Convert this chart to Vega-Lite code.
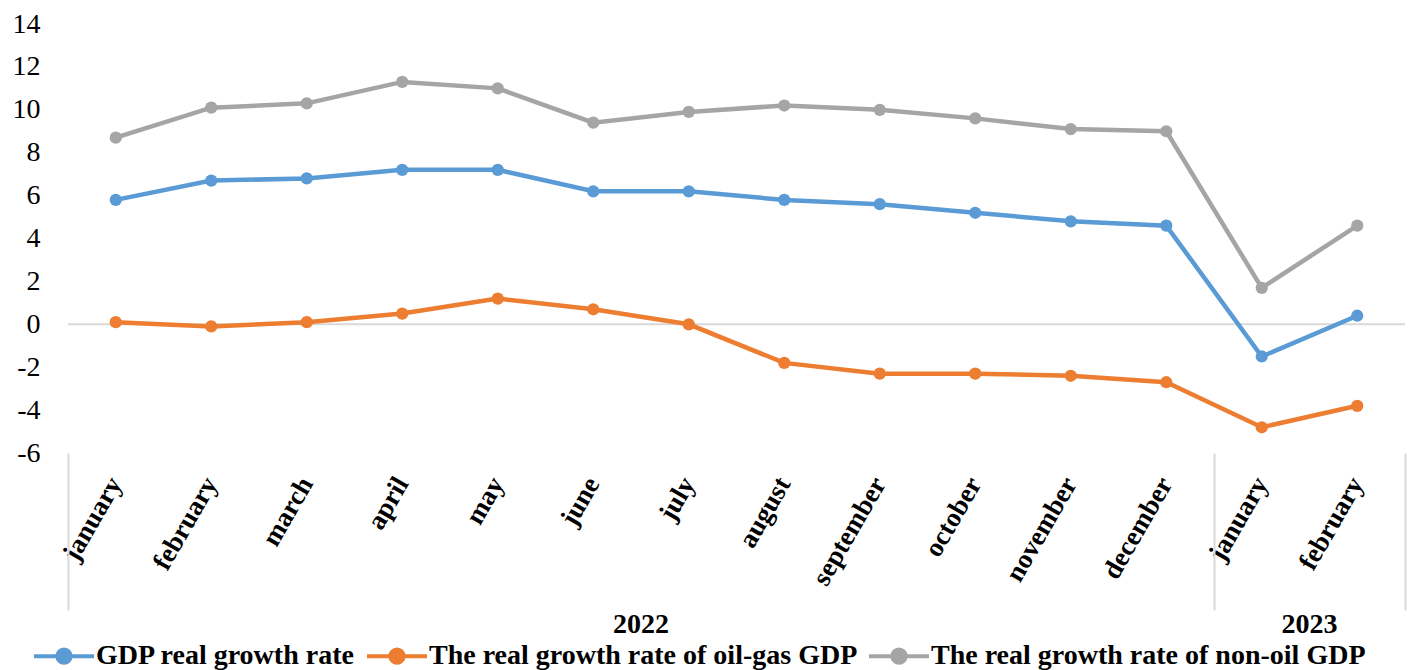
{
  "$schema": "https://vega.github.io/schema/vega-lite/v6.json",
  "width": 1337,
  "height": 429,
  "autosize": {"type": "none"},
  "padding": {"left": 68, "top": 24, "right": 3, "bottom": 217},
  "background": "white",
  "config": {
    "view": {"stroke": null},
    "font": "Liberation Serif",
    "axis": {"labelFont": "Liberation Serif"},
    "axisY": {
      "domain": false,
      "ticks": false,
      "grid": false,
      "labelFont": "Liberation Serif",
      "labelFontWeight": "normal",
      "labelFontSize": 28,
      "labelColor": "black",
      "labelPadding": 28,
      "labelExpr": "datum.value < 0 ? '-' + abs(datum.value) : '' + datum.value"
    },
    "legend": {
      "orient": "none",
      "legendX": -36,
      "legendY": 600,
      "direction": "horizontal",
      "symbolType": "M-1,0L1,0M-0.22,0A0.22,0.22,0,1,0,0.22,0A0.22,0.22,0,1,0,-0.22,0Z",
      "symbolSize": 3600,
      "symbolStrokeWidth": 4,
      "labelFont": "Liberation Serif",
      "labelFontWeight": "bold",
      "labelFontSize": 28,
      "labelColor": "black",
      "labelOffset": 0,
      "columnPadding": 3,
      "labelLimit": 0
    }
  },
  "datasets": {
    "zero": [{"value": 0}],
    "growth": [
      {"key": "2022 january", "series": "GDP real growth rate", "value": 5.8},
      {"key": "2022 february", "series": "GDP real growth rate", "value": 6.7},
      {"key": "2022 march", "series": "GDP real growth rate", "value": 6.8},
      {"key": "2022 april", "series": "GDP real growth rate", "value": 7.2},
      {"key": "2022 may", "series": "GDP real growth rate", "value": 7.2},
      {"key": "2022 june", "series": "GDP real growth rate", "value": 6.2},
      {"key": "2022 july", "series": "GDP real growth rate", "value": 6.2},
      {"key": "2022 august", "series": "GDP real growth rate", "value": 5.8},
      {"key": "2022 september", "series": "GDP real growth rate", "value": 5.6},
      {"key": "2022 october", "series": "GDP real growth rate", "value": 5.2},
      {"key": "2022 november", "series": "GDP real growth rate", "value": 4.8},
      {"key": "2022 december", "series": "GDP real growth rate", "value": 4.6},
      {"key": "2023 january", "series": "GDP real growth rate", "value": -1.5},
      {"key": "2023 february", "series": "GDP real growth rate", "value": 0.4},
      {"key": "2022 january", "series": "The real growth rate of oil-gas GDP", "value": 0.1},
      {"key": "2022 february", "series": "The real growth rate of oil-gas GDP", "value": -0.1},
      {"key": "2022 march", "series": "The real growth rate of oil-gas GDP", "value": 0.1},
      {"key": "2022 april", "series": "The real growth rate of oil-gas GDP", "value": 0.5},
      {"key": "2022 may", "series": "The real growth rate of oil-gas GDP", "value": 1.2},
      {"key": "2022 june", "series": "The real growth rate of oil-gas GDP", "value": 0.7},
      {"key": "2022 july", "series": "The real growth rate of oil-gas GDP", "value": 0.0},
      {"key": "2022 august", "series": "The real growth rate of oil-gas GDP", "value": -1.8},
      {"key": "2022 september", "series": "The real growth rate of oil-gas GDP", "value": -2.3},
      {"key": "2022 october", "series": "The real growth rate of oil-gas GDP", "value": -2.3},
      {"key": "2022 november", "series": "The real growth rate of oil-gas GDP", "value": -2.4},
      {"key": "2022 december", "series": "The real growth rate of oil-gas GDP", "value": -2.7},
      {"key": "2023 january", "series": "The real growth rate of oil-gas GDP", "value": -4.8},
      {"key": "2023 february", "series": "The real growth rate of oil-gas GDP", "value": -3.8},
      {"key": "2022 january", "series": "The real growth rate of non-oil GDP", "value": 8.7},
      {"key": "2022 february", "series": "The real growth rate of non-oil GDP", "value": 10.1},
      {"key": "2022 march", "series": "The real growth rate of non-oil GDP", "value": 10.3},
      {"key": "2022 april", "series": "The real growth rate of non-oil GDP", "value": 11.3},
      {"key": "2022 may", "series": "The real growth rate of non-oil GDP", "value": 11.0},
      {"key": "2022 june", "series": "The real growth rate of non-oil GDP", "value": 9.4},
      {"key": "2022 july", "series": "The real growth rate of non-oil GDP", "value": 9.9},
      {"key": "2022 august", "series": "The real growth rate of non-oil GDP", "value": 10.2},
      {"key": "2022 september", "series": "The real growth rate of non-oil GDP", "value": 10.0},
      {"key": "2022 october", "series": "The real growth rate of non-oil GDP", "value": 9.6},
      {"key": "2022 november", "series": "The real growth rate of non-oil GDP", "value": 9.1},
      {"key": "2022 december", "series": "The real growth rate of non-oil GDP", "value": 9.0},
      {"key": "2023 january", "series": "The real growth rate of non-oil GDP", "value": 1.7},
      {"key": "2023 february", "series": "The real growth rate of non-oil GDP", "value": 4.6}
    ]
  },
  "layer": [
    {
      "data": {"name": "zero"},
      "mark": {"type": "rule", "color": "#D9D9D9", "strokeWidth": 2},
      "encoding": {
        "y": {
          "field": "value",
          "type": "quantitative",
          "scale": {"domain": [-6, 14], "nice": false, "zero": false},
          "axis": {"title": null, "values": [-6, -4, -2, 0, 2, 4, 6, 8, 10, 12, 14]}
        }
      }
    },
    {
      "data": {"name": "growth"},
      "mark": {"type": "line", "strokeWidth": 4.5},
      "encoding": {
        "x": {
          "field": "key",
          "type": "nominal",
          "scale": {
            "type": "band",
            "paddingInner": 0,
            "paddingOuter": 0,
            "domain": ["2022 january", "2022 february", "2022 march", "2022 april", "2022 may", "2022 june", "2022 july", "2022 august", "2022 september", "2022 october", "2022 november", "2022 december", "2023 january", "2023 february"]
          },
          "axis": {
            "orient": "bottom",
            "title": null,
            "domain": false,
            "ticks": false,
            "labelExpr": "split(datum.label, ' ')[1]",
            "labelAngle": -60,
            "labelFont": "Liberation Serif",
            "labelFontWeight": "bold",
            "labelFontSize": 27,
            "labelColor": "black",
            "labelPadding": 26,
            "labelOverlap": false,
            "labelBound": false
          }
        },
        "y": {
          "field": "value",
          "type": "quantitative",
          "axis": {"title": null, "values": [-6, -4, -2, 0, 2, 4, 6, 8, 10, 12, 14]}
        },
        "color": {
          "field": "series",
          "type": "nominal",
          "title": null,
          "scale": {
            "domain": ["GDP real growth rate", "The real growth rate of oil-gas GDP", "The real growth rate of non-oil GDP"],
            "range": ["#5B9BD5", "#ED7D31", "#A5A5A5"]
          },
          "legend": {
            "encode": {
              "symbols": {
                "update": {
                  "fill": {"scale": "color", "field": "value"},
                  "stroke": {"scale": "color", "field": "value"}
                }
              }
            }
          }
        }
      }
    },
    {
      "data": {"name": "growth"},
      "mark": {"type": "point", "filled": true, "size": 150, "opacity": 1},
      "encoding": {
        "x": {
          "field": "key",
          "type": "nominal",
          "axis": {
            "orient": "bottom",
            "title": null,
            "domain": false,
            "values": ["2022 january", "2022 june", "2023 january"],
            "bandPosition": 0,
            "tickSize": 157,
            "tickWidth": 2,
            "tickColor": "#D9D9D9",
            "tickOpacity": {"condition": {"test": "datum.value === '2022 june'", "value": 0}, "value": 1},
            "labelExpr": "datum.value === '2022 june' ? '2022' : (datum.value === '2023 january' ? '2023' : '')",
            "labelOffset": 47.75,
            "labelAngle": 0,
            "labelAlign": "center",
            "labelFont": "Liberation Serif",
            "labelFontWeight": "bold",
            "labelFontSize": 28,
            "labelColor": "black",
            "labelPadding": 0,
            "labelOverlap": false,
            "labelBound": false
          }
        },
        "y": {
          "field": "value",
          "type": "quantitative",
          "axis": {"title": null, "values": [-6, -4, -2, 0, 2, 4, 6, 8, 10, 12, 14]}
        },
        "color": {"field": "series", "type": "nominal"}
      }
    },
    {
      "data": {"name": "growth"},
      "mark": {"type": "line", "opacity": 0, "strokeOpacity": 0},
      "encoding": {
        "x": {
          "field": "key",
          "type": "nominal",
          "axis": {
            "orient": "bottom",
            "title": null,
            "domain": false,
            "labels": false,
            "values": ["2023 february"],
            "bandPosition": 1,
            "tickSize": 157,
            "tickWidth": 2,
            "tickColor": "#D9D9D9"
          }
        },
        "y": {
          "field": "value",
          "type": "quantitative",
          "axis": {"title": null, "values": [-6, -4, -2, 0, 2, 4, 6, 8, 10, 12, 14]}
        },
        "detail": {"field": "series", "type": "nominal"}
      }
    }
  ],
  "resolve": {"axis": {"x": "independent"}}
}
